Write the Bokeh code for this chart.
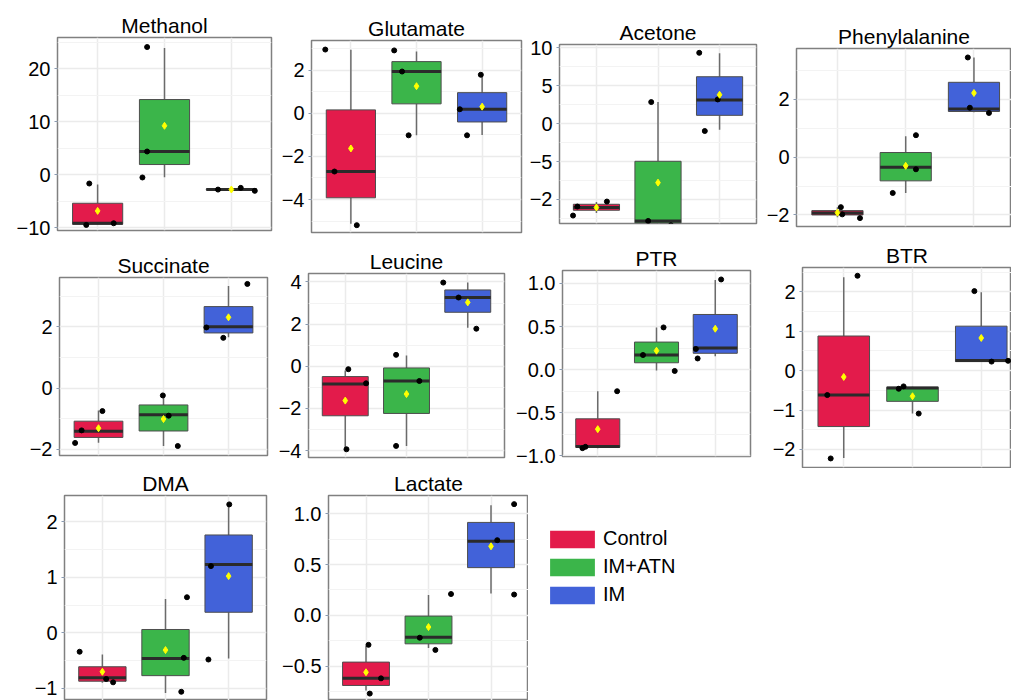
from bokeh.plotting import figure
from bokeh.models import Range1d, FixedTicker, CustomJSTickFormatter, Legend, LegendItem, ColumnDataSource
from bokeh.layouts import row, column
from bokeh.embed import file_html
from bokeh.resources import INLINE

groups = ["Control", "IM+ATN", "IM"]
colors = ["#E31B4B", "#3BB54A", "#4262D9"]
panels = ["Methanol", "Glutamate", "Acetone", "Phenylalanine", "Succinate",
          "Leucine", "PTR", "BTR", "DMA", "Lactate"]

# box statistics per panel: [Control, IM+ATN, IM]
whisker_low = {
    "Methanol": [-9.4, -0.45, -3.0], "Glutamate": [-5.12, -1.02, -1.0],
    "Acetone": [-11.8, -13.3, -0.8], "Phenylalanine": [-2.08, -1.24, 1.55],
    "Succinate": [-1.78, -1.89, 1.66], "Leucine": [-3.89, -3.78, 1.83],
    "PTR": [-0.91, -0.01, 0.155], "BTR": [-2.22, -1.09, 0.23],
    "DMA": [-0.9, -1.08, -0.46], "Lactate": [-0.74, -0.32, 0.215]}
q1 = {
    "Methanol": [-9.32, 1.94, -2.85], "Glutamate": [-3.92, 0.44, -0.40],
    "Acetone": [-11.44, -13.11, 1.1], "Phenylalanine": [-2.0, -0.82, 1.58],
    "Succinate": [-1.61, -1.40, 1.80], "Leucine": [-2.35, -2.24, 2.56],
    "PTR": [-0.90, 0.08, 0.19], "BTR": [-1.42, -0.78, 0.23],
    "DMA": [-0.87, -0.77, 0.37], "Lactate": [-0.69, -0.28, 0.47]}
median = {
    "Methanol": [-9.13, 4.4, -2.77], "Glutamate": [-2.70, 1.94, 0.19],
    "Acetone": [-11.08, -12.85, 3.12], "Phenylalanine": [-1.93, -0.35, 1.67],
    "Succinate": [-1.41, -0.87, 2.0], "Leucine": [-0.84, -0.70, 3.26],
    "PTR": [-0.89, 0.17, 0.25], "BTR": [-0.62, -0.44, 0.26],
    "DMA": [-0.81, -0.46, 1.23], "Lactate": [-0.62, -0.215, 0.73]}
q3 = {
    "Methanol": [-5.36, 14.2, -2.65], "Glutamate": [0.16, 2.40, 0.96],
    "Acetone": [-10.65, -4.97, 6.2], "Phenylalanine": [-1.85, 0.16, 2.59],
    "Succinate": [-1.08, -0.55, 2.66], "Leucine": [-0.49, -0.08, 3.62],
    "PTR": [-0.57, 0.32, 0.64], "BTR": [0.88, -0.42, 1.13],
    "DMA": [-0.61, 0.06, 1.76], "Lactate": [-0.46, -0.007, 0.915]}
whisker_high = {
    "Methanol": [-1.83, 23.9, -2.46], "Glutamate": [2.95, 2.87, 1.77],
    "Acetone": [-10.34, 2.85, 9.32], "Phenylalanine": [-1.73, 0.72, 3.45],
    "Succinate": [-0.73, -0.26, 3.33], "Leucine": [-0.2, 0.51, 3.97],
    "PTR": [-0.25, 0.49, 1.04], "BTR": [2.37, -0.41, 1.99],
    "DMA": [-0.39, 0.61, 2.31], "Lactate": [-0.30, 0.20, 1.085]}
means = {
    "Methanol": [-6.8, 9.25, -2.77], "Glutamate": [-1.63, 1.26, 0.31],
    "Acetone": [-11.08, -7.79, 3.82], "Phenylalanine": [-1.92, -0.30, 2.22],
    "Succinate": [-1.31, -1.01, 2.31], "Leucine": [-1.63, -1.32, 3.03],
    "PTR": [-0.69, 0.22, 0.475], "BTR": [-0.16, -0.65, 0.83],
    "DMA": [-0.70, -0.31, 1.02], "Lactate": [-0.56, -0.115, 0.68]}

# individual samples (3 per group) and their horizontal jitter
samples = {
    "Methanol": [[-1.64, -9.45, -9.13], [24.1, 4.4, -0.5], [-2.46, -3.02, -2.78]],
    "Glutamate": [[2.96, -2.70, -5.19], [2.92, 1.94, -1.02], [1.79, 0.19, -1.02]],
    "Acetone": [[-10.95, -12.14, -10.29], [2.85, -12.85, -13.42], [9.36, 3.2, -0.97]],
    "Phenylalanine": [[-1.73, -1.98, -2.11], [0.76, -0.42, -1.24], [3.45, 1.71, 1.53]],
    "Succinate": [[-0.75, -1.38, -1.79], [-0.24, -0.90, -1.89], [3.40, 1.98, 1.64]],
    "Leucine": [[-0.14, -0.81, -3.94], [0.54, -0.70, -3.78], [3.97, 3.26, 1.78]],
    "PTR": [[-0.25, -0.895, -0.91], [0.49, 0.17, -0.015], [1.046, 0.24, 0.13]],
    "BTR": [[2.41, -0.62, -2.23], [-0.40, -0.46, -1.09], [2.02, 0.23, 0.25]],
    "DMA": [[-0.34, -0.83, -0.89], [0.64, -0.45, -1.06], [2.31, 1.20, -0.48]],
    "Lactate": [[-0.29, -0.62, -0.77], [0.21, -0.22, -0.34], [1.095, 0.74, 0.205]]}
jitter = {
    "Methanol": [[-0.125, -0.17, 0.24], [-0.26, -0.26, -0.33], [0.14, 0.35, -0.2]],
    "Glutamate": [[-0.39, -0.25, 0.09], [-0.34, -0.22, -0.12], [-0.02, -0.34, -0.23]],
    "Acetone": [[-0.31, -0.38, 0.17], [-0.11, -0.16, 0.21], [-0.33, -0.03, -0.24]],
    "Phenylalanine": [[0.05, 0.07, 0.33], [0.15, 0.15, -0.19], [-0.09, -0.06, 0.22]],
    "Succinate": [[0.06, -0.26, -0.36], [-0.01, 0.08, 0.22], [0.29, -0.34, -0.08]],
    "Leucine": [[0.05, 0.34, 0.02], [-0.17, 0.21, -0.17], [-0.40, -0.15, 0.14]],
    "PTR": [[0.33, -0.21, -0.26], [0.12, -0.23, 0.31], [0.10, -0.33, -0.30]],
    "BTR": [[0.20, -0.24, -0.19], [-0.13, -0.20, 0.09], [-0.10, 0.15, 0.39]],
    "DMA": [[-0.36, 0.06, 0.17], [0.34, 0.29, 0.25], [0.01, -0.28, -0.32]],
    "Lactate": [[0.04, 0.24, 0.06], [0.36, -0.14, 0.11], [0.37, 0.10, 0.37]]}

# y tick labels per panel
y_ticks = {
    "Methanol": [-10, 0, 10, 20], "Glutamate": [-4, -2, 0, 2],
    "Acetone": [-10, -5, 0, 5, 10], "Phenylalanine": [-2, 0, 2],
    "Succinate": [-2, 0, 2], "Leucine": [-4, -2, 0, 2, 4],
    "PTR": [-1.0, -0.5, 0.0, 0.5, 1.0], "BTR": [-2, -1, 0, 1, 2],
    "DMA": [-1, 0, 1, 2], "Lactate": [-0.5, 0.0, 0.5, 1.0]}
y_minor = {
    "Methanol": [-5, 5, 15, 25], "Glutamate": [-5, -3, -1, 1, 3],
    "Acetone": [-12.5, -7.5, -2.5, 2.5, 7.5], "Phenylalanine": [-1, 1, 3],
    "Succinate": [-1, 1, 3], "Leucine": [-3, -1, 1, 3],
    "PTR": [-0.75, -0.25, 0.25, 0.75], "BTR": [-1.5, -0.5, 0.5, 1.5, 2.5],
    "DMA": [-0.5, 0.5, 1.5], "Lactate": [-0.75, -0.25, 0.25, 0.75]}
decimals = {"PTR": 1, "Lactate": 1}
label_override = {"Acetone": (-10, "\u22122")}

# layout: width, height, border L, R, T, B, y range, x end, title offset
layout = {
    "Methanol": (276, 240, 57, 5, 37, 10, -10.5, 25.9, 3.6, 0),
    "Glutamate": (249, 240, 35, 4, 40, 8, -5.53, 3.38, 3.6, 0),
    "Acetone": (235, 240, 34, 4, 44, 17, -13.19, 10.46, 3.6, 0),
    "Phenylalanine": (251, 240, 36, 0, 48, 14, -2.40, 3.76, 3.55, 2),
    "Succinate": (275, 228, 59, 8, 37, 13, -2.20, 3.61, 3.6, 0),
    "Leucine": (233, 228, 32, 4, 33, 11, -4.33, 4.40, 3.6, 0),
    "PTR": (260, 228, 54, 18, 30, 12, -1.007, 1.15, 3.6, 0),
    "BTR": (243, 228, 34, 0, 25, 1, -2.46, 2.62, 3.44, 6),
    "DMA": (272, 232, 64, 6, 25, 0, -1.217, 2.47, 3.6, 0),
    "Lactate": (256, 232, 56, 0, 25, 0, -0.838, 1.18, 3.6, 0),
}

FONT = "Liberation Sans"


def make_panel(name):
    W, H, L, R, T, B, y0, y1, x1, toff = layout[name]
    p = figure(width=W, height=H, x_range=Range1d(0.4, x1), y_range=Range1d(y0, y1),
               output_backend="svg", toolbar_location=None, title=name,
               min_border_left=L, min_border_right=R, min_border_top=T, min_border_bottom=B,
               x_axis_location=None)
    p.frame_align = False
    p.title.text_font = FONT
    p.title.text_font_size = "21px"
    p.title.text_font_style = "normal"
    p.title.text_color = "black"
    p.title.align = "center"
    p.title.standoff = 2
    p.title.offset = toff

    xs = [1, 2, 3]
    src = ColumnDataSource(dict(
        x=xs, lo=whisker_low[name], q1=q1[name], med=median[name], q3=q3[name],
        hi=whisker_high[name], mean=means[name], color=colors,
        xl=[x - 0.375 for x in xs], xr=[x + 0.375 for x in xs]))
    p.segment(x0="x", y0="lo", x1="x", y1="q1", source=src, line_color="#6b6b6b", line_width=1.5)
    p.segment(x0="x", y0="q3", x1="x", y1="hi", source=src, line_color="#6b6b6b", line_width=1.5)
    p.vbar(x="x", width=0.75, bottom="q1", top="q3", source=src, fill_color="color",
           line_color="#4d4d4d", line_width=1)
    p.segment(x0="xl", y0="med", x1="xr", y1="med", source=src, line_color="#2b2b2b", line_width=3)

    px, py = [], []
    for gi in range(3):
        for v, j in zip(samples[name][gi], jitter[name][gi]):
            px.append(gi + 1 + j)
            py.append(v)
    p.scatter(px, py, size=5, color="black")
    p.scatter(x="x", y="mean", source=src, marker="diamond", size=7,
              fill_color="#FFFF00", line_color="#FFFF00")

    p.xgrid.ticker = FixedTicker(ticks=xs)

    p.yaxis.ticker = FixedTicker(ticks=y_ticks[name], minor_ticks=y_minor[name])
    p.ygrid.ticker = FixedTicker(ticks=y_ticks[name], minor_ticks=y_minor[name])
    dec = decimals.get(name, 0)
    ov = label_override.get(name)
    code = ""
    if ov:
        code += "if (Math.abs(tick - (%s)) < 1e-9) { return '%s'; } " % (ov[0], ov[1])
    code += "return tick.toFixed(%d).replace('-', '\\u2212');" % dec
    p.yaxis.formatter = CustomJSTickFormatter(code=code)
    p.yaxis.axis_line_color = None
    p.yaxis.major_tick_out = 3
    p.yaxis.major_tick_in = 0
    p.yaxis.minor_tick_line_color = None
    p.yaxis.major_tick_line_color = "#8a9ab0"
    p.yaxis.major_label_text_font = FONT
    p.yaxis.major_label_text_font_size = "20px"
    p.yaxis.major_label_text_color = "black"
    p.yaxis.major_label_standoff = 3

    p.xgrid.grid_line_color = "#EBEBEB"
    p.xgrid.grid_line_width = 1.5
    p.ygrid.grid_line_color = "#EBEBEB"
    p.ygrid.grid_line_width = 1.5
    p.ygrid.minor_grid_line_color = "#F3F3F3"
    p.ygrid.minor_grid_line_width = 1

    p.outline_line_color = "#808080"
    p.outline_line_width = 1.5
    p.background_fill_color = "white"
    p.border_fill_color = "white"
    return p


figs = {n: make_panel(n) for n in panels}

# legend panel
lg = figure(width=483, height=232, x_range=Range1d(0, 1), y_range=Range1d(0, 1),
            output_backend="svg", toolbar_location=None, x_axis_type=None, y_axis_type=None,
            min_border=0)
lg.frame_align = False
lg.grid.visible = False
lg.outline_line_color = None
items = []
for g, c in zip(groups, colors):
    r = lg.vbar(x=[10], top=[10], width=0.1, fill_color=c, line_color=None)
    items.append(LegendItem(label=g, renderers=[r]))
leg = Legend(items=items, location=(16, 94))
leg.glyph_width = 56
leg.glyph_height = 22
leg.label_height = 22
leg.spacing = 5
leg.padding = 0
leg.margin = 0
leg.label_standoff = 3
leg.label_text_font = FONT
leg.label_text_font_size = "20px"
leg.label_text_color = "black"
leg.border_line_color = None
leg.background_fill_alpha = 0
lg.add_layout(leg, "center")

layout_all = column(
    row(figs["Methanol"], figs["Glutamate"], figs["Acetone"], figs["Phenylalanine"]),
    row(figs["Succinate"], figs["Leucine"], figs["PTR"], figs["BTR"]),
    row(figs["DMA"], figs["Lactate"], lg),
)

open("out.html", "w").write(file_html(layout_all, INLINE))
